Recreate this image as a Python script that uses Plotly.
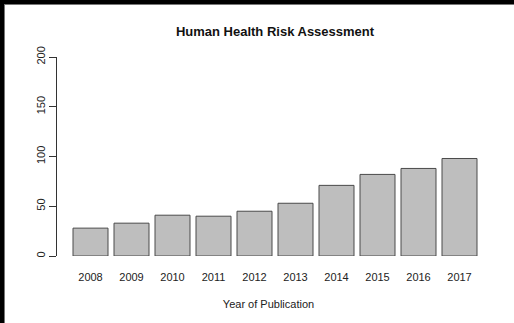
import plotly.graph_objects as go

# Publications per year
years = ["2008", "2009", "2010", "2011", "2012", "2013", "2014", "2015", "2016", "2017"]
counts = [28, 33, 41, 40, 45, 53, 71, 82, 88, 98]
y_ticks = [0, 50, 100, 150, 200]

W, H = 514, 323
ML, MR, MT, MB = 57, 34, 57, 67
PW, PH = W - ML - MR, H - MT - MB

FONT = "Liberation Sans, Arial, sans-serif"

fig = go.Figure(
    go.Bar(
        x=years,
        y=counts,
        marker=dict(color="#bebebe", line=dict(color="#4a4a4a", width=1)),
        hoverinfo="x+y",
    )
)


def px_x(p):
    return (p - ML) / PW


def px_y(p):
    return 1 - (p - MT) / PH


# dark frame along the top and left edges of the image
shapes = [
    dict(type="rect", xref="paper", yref="paper", x0=px_x(0), x1=px_x(W), y0=px_y(0), y1=px_y(4),
         fillcolor="black", line=dict(width=0), layer="below"),
    dict(type="rect", xref="paper", yref="paper", x0=px_x(0), x1=px_x(4), y0=px_y(0), y1=px_y(H),
         fillcolor="black", line=dict(width=0), layer="below"),
    dict(type="line", xref="paper", yref="paper", x0=px_x(4), x1=px_x(W), y0=px_y(4.5), y1=px_y(4.5),
         line=dict(color="#777", width=1)),
    dict(type="line", xref="paper", yref="paper", x0=px_x(4.5), x1=px_x(4.5), y0=px_y(4), y1=px_y(H),
         line=dict(color="#777", width=1)),
]

fig.update_layout(
    width=W,
    height=H,
    margin=dict(l=ML, r=MR, t=MT, b=MB, pad=0),
    paper_bgcolor="white",
    plot_bgcolor="white",
    bargap=6 / 41,
    showlegend=False,
    font=dict(family=FONT, color="#222", size=11),
    title=dict(
        text="<b>Human Health Risk Assessment</b>",
        font=dict(family=FONT, size=13, color="#111"),
        x=275 / W,
        xref="container",
        xanchor="center",
        y=1 - 31 / H,
        yref="container",
        yanchor="middle",
    ),
    shapes=shapes,
    xaxis=dict(
        range=[-0.5 - 13 / 41, 9.5],
        showline=False,
        showgrid=False,
        zeroline=False,
        ticks="outside",
        ticklen=11,
        tickcolor="rgba(0,0,0,0)",
        tickfont=dict(size=11, color="#222"),
        title=dict(text="Year of Publication", font=dict(size=11, color="#222"), standoff=18),
    ),
    yaxis=dict(
        range=[0, 200],
        tickvals=y_ticks,
        showline=True,
        linecolor="#333",
        linewidth=1,
        showgrid=False,
        zeroline=False,
        ticks="outside",
        ticklen=7,
        tickcolor="#333",
        tickangle=-90,
        tickfont=dict(size=11, color="#222"),
    ),
)

fig.write_html("out.html")
